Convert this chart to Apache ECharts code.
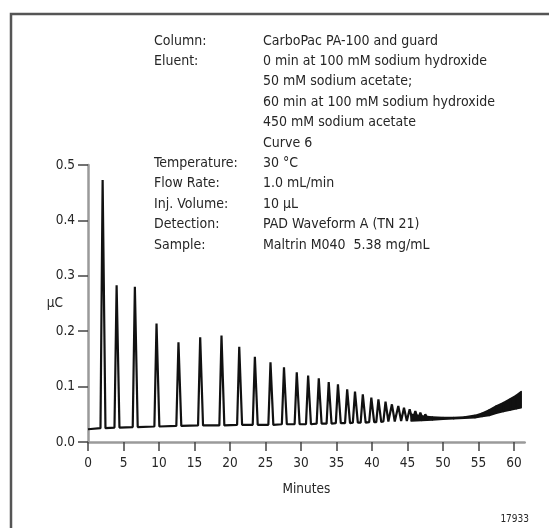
<!DOCTYPE html>
<html>
<head>
<meta charset="utf-8">
<style>
  html, body { margin: 0; padding: 0; background: #fff; }
  #chart { width: 549px; height: 528px; }
</style>
<script src="https://cdn.jsdelivr.net/npm/echarts@6/dist/echarts.min.js"></script>
</head>
<body>
<div id="chart"></div>
<script>
// Oligosaccharide ladder (Maltrin M040) on CarboPac PA-100, PAD detection.

// Resolved peaks: retention time (min), apex signal (µC), baseline under the peak (µC)
const peakMin = [2.06, 4.03, 6.6, 9.65, 12.74, 15.8, 18.8, 21.3, 23.5, 25.7, 27.6, 29.4,
  31.0, 32.5, 33.9, 35.2, 36.5, 37.6, 38.7, 39.9, 40.9, 41.9, 42.8, 43.7, 44.5, 45.3,
  46.1, 46.8, 47.5];
const peakUC = [0.473, 0.283, 0.280, 0.214, 0.180, 0.189, 0.192, 0.172, 0.154, 0.144, 0.135,
  0.126, 0.120, 0.115, 0.108, 0.104, 0.095, 0.091, 0.086, 0.080, 0.077, 0.073, 0.068,
  0.065, 0.062, 0.059, 0.056, 0.053, 0.050];
const footUC = [0.025, 0.026, 0.027, 0.028, 0.029, 0.030, 0.030, 0.031, 0.031, 0.031, 0.032,
  0.032, 0.032, 0.033, 0.033, 0.034, 0.034, 0.035, 0.035, 0.036, 0.036, 0.037, 0.037,
  0.038, 0.038, 0.039, 0.039, 0.040, 0.040];
// Peak foot offsets either side of the apex (min)
const riseMin = 0.3;
const fallMin = 0.4;
// Trace start
const startMin = 0;
const startUC = 0.023;

// Unresolved late-eluting oligomers: envelope of the trace (min, low µC, high µC)
const bandMin = [45.5, 47.0, 48.5, 50.0, 51.5, 53.0, 54.5, 55.5, 56.5, 57.5, 58.5, 59.5,
  60.3, 61.0];
const bandLow = [0.038, 0.039, 0.040, 0.041, 0.042, 0.043, 0.044, 0.046, 0.048, 0.052,
  0.055, 0.058, 0.060, 0.062];
const bandHigh = [0.050, 0.047, 0.045, 0.044, 0.044, 0.045, 0.048, 0.052, 0.058, 0.065,
  0.071, 0.078, 0.084, 0.091];

// Axis ticks
const minuteTicks = [0, 5, 10, 15, 20, 25, 30, 35, 40, 45, 50, 55, 60];
const signalTicks = [0, 0.1, 0.2, 0.3, 0.4, 0.5];

// Conditions block
const infoLabels = ['Column:', 'Eluent:', '', '', '', '', 'Temperature:', 'Flow Rate:',
  'Inj. Volume:', 'Detection:', 'Sample:'];
const infoValues = ['CarboPac PA-100 and guard', '0 min at 100 mM sodium hydroxide',
  '50 mM sodium acetate;', '60 min at 100 mM sodium hydroxide', '450 mM sodium acetate',
  'Curve 6', '30 \u00B0C', '1.0 mL/min', '10 \u00B5L', 'PAD Waveform A (TN 21)',
  'Maltrin M040  5.38 mg/mL'];
const figureId = '17933';

const FONT = "'DejaVu Sans Condensed', 'Liberation Sans Narrow', sans-serif";
const INK = '#262626';

// Trace of resolved peaks: foot, apex, foot for each
const trace = [[startMin, startUC]];
peakMin.forEach((t, i) => {
  trace.push([t - riseMin, footUC[i]]);
  trace.push([t, peakUC[i]]);
  trace.push([t + fallMin, footUC[i]]);
});
const bandData = bandMin.map((t, i) => [t, bandLow[i], bandHigh[i]]);

// Filled envelope between consecutive envelope samples
function renderBand(params, api) {
  const i = params.dataIndex;
  if (i >= bandData.length - 1) return null;
  const a = bandData[i], b = bandData[i + 1];
  const pts = [
    api.coord([a[0], a[1]]), api.coord([b[0], b[1]]),
    api.coord([b[0], b[2]]), api.coord([a[0], a[2]])
  ];
  return {
    type: 'polygon',
    shape: { points: pts },
    style: { fill: '#111', stroke: '#111', lineWidth: 1.6, lineJoin: 'round' }
  };
}

const graphics = [
  {
    type: 'rect',
    shape: { x: 11, y: 14, width: 600, height: 600 },
    style: { fill: 'none', stroke: '#555', lineWidth: 2.5 },
    silent: true
  },
  {
    type: 'text', right: 20, top: 514,
    style: { text: figureId, font: '10px ' + FONT, fill: INK }
  }
];
infoLabels.forEach((s, i) => {
  if (!s) return;
  graphics.push({
    type: 'text', x: 154, y: 41 + i * 20.4,
    style: { text: s, font: '14px ' + FONT, fill: INK, textVerticalAlign: 'middle' }
  });
});
infoValues.forEach((s, i) => {
  graphics.push({
    type: 'text', x: 263, y: 41 + i * 20.4,
    style: { text: s, font: '14px ' + FONT, fill: INK, textVerticalAlign: 'middle' }
  });
});

const chart = echarts.init(document.getElementById('chart'), null, { renderer: 'canvas' });
chart.setOption({
  animation: false,
  backgroundColor: '#fff',
  grid: { left: 88, right: 24.3, top: 165, bottom: 86, containLabel: false },
  xAxis: {
    type: 'value', min: 0, max: 61.5,
    name: 'Minutes', nameLocation: 'middle', nameGap: 40,
    nameTextStyle: { fontFamily: FONT, fontSize: 13.5, color: INK },
    axisLine: { show: true, onZero: false, lineStyle: { color: '#9a9a9a', width: 2.5 } },
    axisTick: { show: true, length: 9, customValues: minuteTicks, lineStyle: { color: '#444', width: 1.5 } },
    axisLabel: { customValues: minuteTicks, margin: 14, fontFamily: FONT, fontSize: 13.5, color: INK },
    splitLine: { show: false }
  },
  yAxis: {
    type: 'value', min: 0, max: 0.5, interval: 0.1,
    name: '\u00B5C', nameLocation: 'middle', nameRotate: 0, nameGap: 25,
    nameMoveOverlap: false,
    nameTextStyle: { fontFamily: FONT, fontSize: 13.5, color: INK },
    axisLine: { show: true, onZero: false, lineStyle: { color: '#9a9a9a', width: 2.5 } },
    axisTick: { show: true, length: 10, customValues: signalTicks, lineStyle: { color: '#444', width: 1.5 } },
    axisLabel: {
      customValues: signalTicks, margin: 13, fontFamily: FONT, fontSize: 13.5, color: INK,
      formatter: v => v.toFixed(1)
    },
    splitLine: { show: false }
  },
  graphic: graphics,
  series: [
    {
      type: 'line', data: trace, showSymbol: false, z: 3,
      lineStyle: { color: '#111', width: 2.2 }
    },
    {
      type: 'custom', data: bandData, renderItem: renderBand, z: 3,
      encode: { x: 0, y: [1, 2] }
    }
  ]
});
</script>
</body>
</html>
